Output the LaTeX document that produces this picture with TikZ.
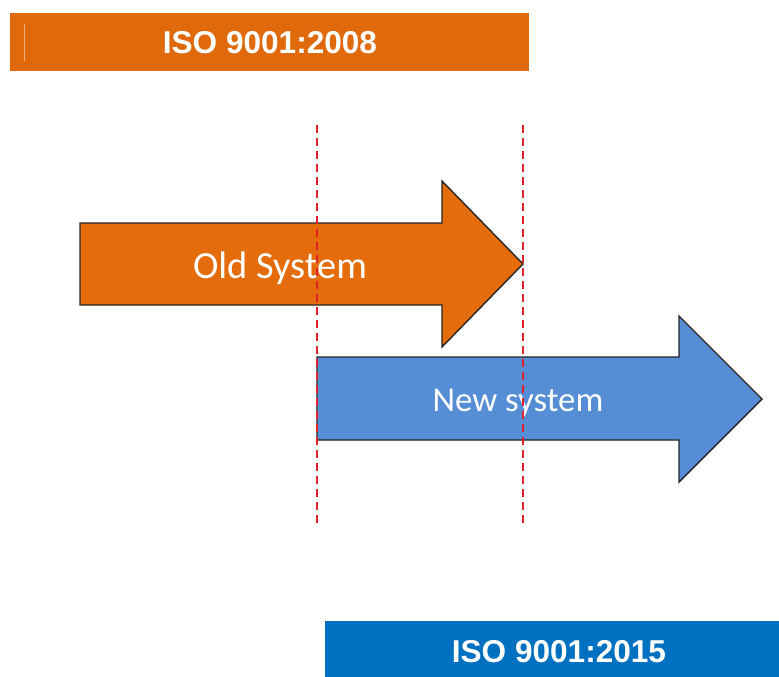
\documentclass[tikz,border=0pt]{standalone}
\usepackage{fontspec}
\setmainfont{Liberation Sans}
\newfontfamily\calib{Carlito}
\definecolor{isoorange}{HTML}{E06A0B}
\definecolor{arroworange}{HTML}{E46C0A}
\definecolor{isoblue}{HTML}{0070C0}
\definecolor{arrowblue}{HTML}{558ED5}
\definecolor{guidered}{HTML}{E0202A}
\begin{document}
\begin{tikzpicture}[x=1bp,y=-1bp,
  banner/.style={fill=#1,draw=none,inner sep=0pt},
  bannertext/.style={text=white,font=\fontsize{31.7}{38}\selectfont\bfseries,anchor=base,inner sep=0pt},
  bigarrow/.style={fill=#1,draw=black!85,line width=1.4bp,line join=miter},
  arrowtext/.style={text=white,anchor=base,inner sep=0pt},
  guide/.style={draw=guidered,line width=1.6bp,dash pattern=on 8bp off 5bp}]
\useasboundingbox (0,0) rectangle (779,677);
% banners
\path[banner=isoorange] (10,13) rectangle (529,71);
\draw[draw=isoorange!55!white,line width=0.8bp] (24,24) -- (24,61);
\path[banner=isoblue] (325,621) rectangle (779,677);
\node[bannertext] (t2008) at (270,54) {ISO 9001:2008};
\node[bannertext] (t2015) at (559,662) {ISO 9001:2015};
% arrows
\draw[bigarrow=arroworange] (80,223) -- (442,223) -- (442,181) -- (523,264) -- (442,347) -- (442,305) -- (80,305) -- cycle;
\draw[bigarrow=arrowblue] (317,357) -- (679,357) -- (679,316) -- (762,399) -- (679,482) -- (679,440) -- (317,440) -- cycle;
\node[arrowtext,font=\calib\fontsize{38.5}{44}\selectfont] (old) at (280,278) {Old System};
\node[arrowtext,font=\calib\fontsize{35}{42}\selectfont] (new) at (518,411) {New system};
% guides
\coordinate (g1a) at (317,125); \coordinate (g1b) at (317,527);
\coordinate (g2a) at (523,125); \coordinate (g2b) at (523,527);
\draw[guide] (g1a) -- (g1b);
\draw[guide] (g2a) -- (g2b);
\end{tikzpicture}
\end{document}
